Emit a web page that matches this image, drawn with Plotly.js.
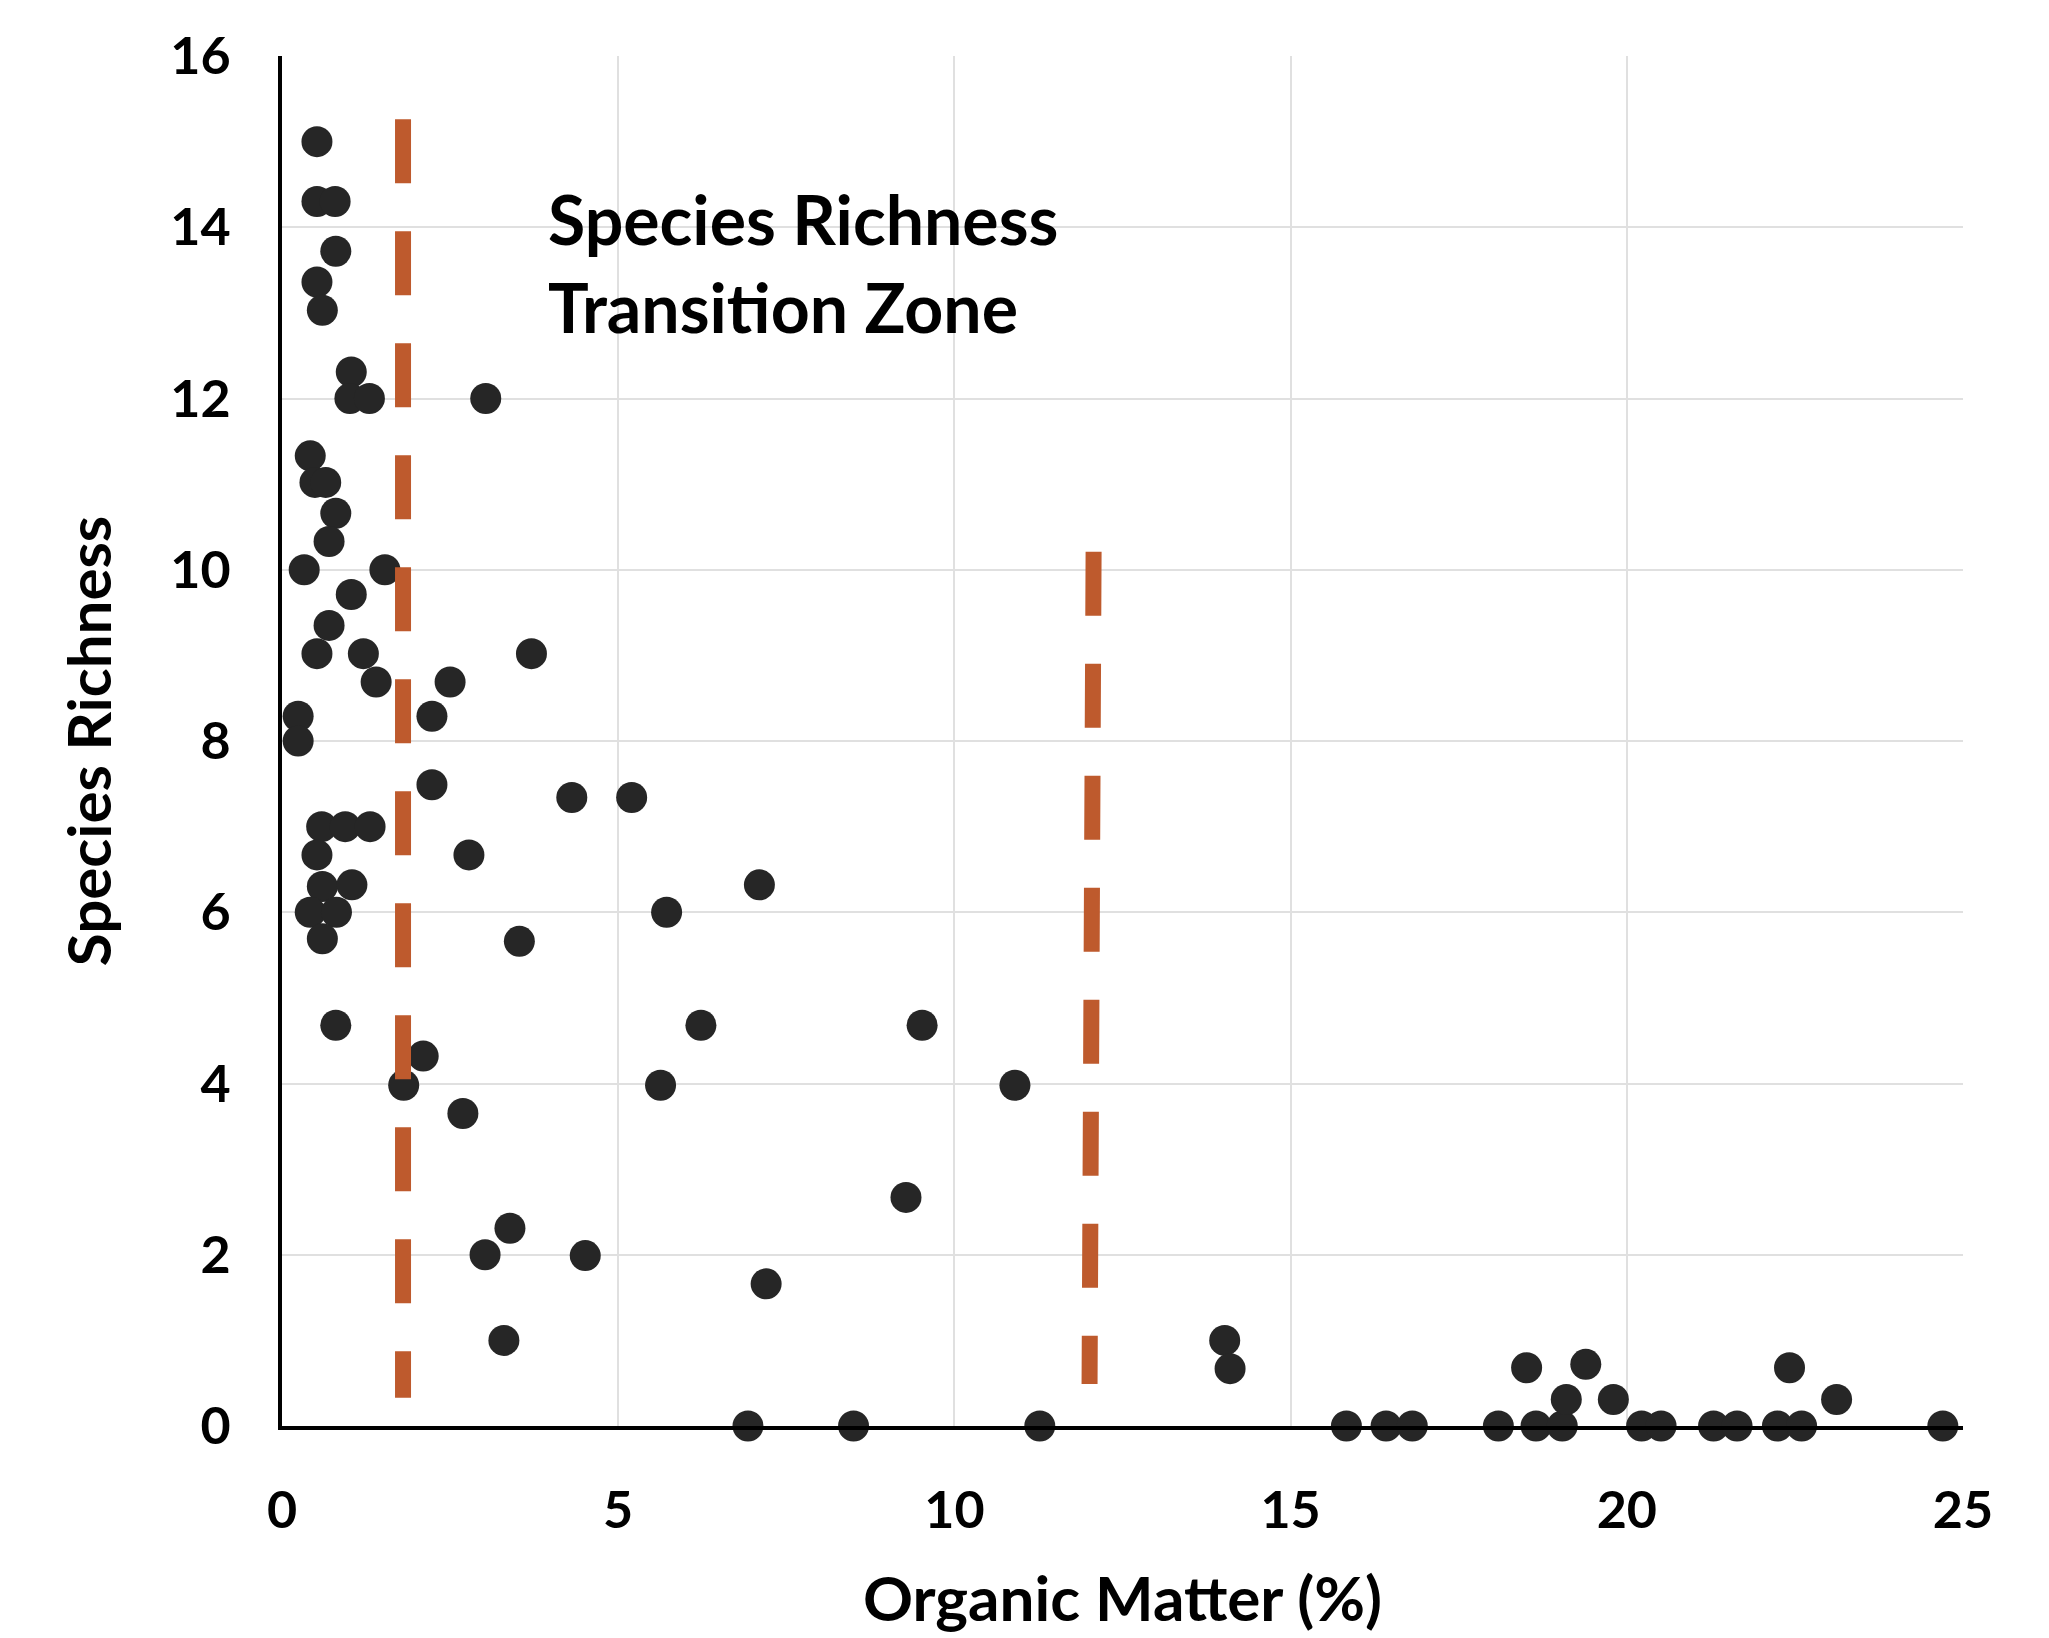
<!DOCTYPE html>
<html>
<head>
<meta charset="utf-8">
<script src="https://cdn.plot.ly/plotly-3.0.1.min.js"></script>
<style>
  html, body { margin: 0; padding: 0; background: #ffffff; }
  #chart { width: 2049px; height: 1638px; }
</style>
</head>
<body>
<div id="chart"></div>
<script>
// Organic matter (%) of each sample
const organicMatter = [
  0.52, 0.52, 0.79, 0.80, 0.52, 0.60, 1.03, 1.01, 1.30, 3.03,
  0.42, 0.49, 0.65, 0.80, 0.70, 0.33, 1.53, 1.03, 0.70, 0.52,
  1.21, 3.71, 1.40, 2.50, 0.24, 2.23, 0.24, 2.23, 4.31, 5.20,
  0.59, 0.94, 1.31, 0.52, 2.78, 0.60, 1.04, 7.10, 0.42, 0.81,
  5.72, 0.60, 3.53, 0.80, 6.23, 9.52, 2.10, 1.81, 5.63, 10.90,
  2.69, 9.28, 3.39, 3.02, 4.51, 7.20, 3.30, 14.02, 14.10, 6.93,
  8.50, 11.27, 15.83, 16.42, 16.81, 18.09, 18.65, 19.04, 18.51, 19.39,
  19.10, 19.80, 20.22, 20.51, 21.29, 21.64, 22.24, 22.60, 22.42, 23.12,
  24.70
];
// Species richness of each sample
const speciesRichness = [
  15.0, 14.3, 14.3, 13.72, 13.36, 13.03, 12.31, 12.0, 12.0, 12.0,
  11.33, 11.02, 11.02, 10.66, 10.33, 10.0, 10.0, 9.71, 9.35, 9.02,
  9.02, 9.02, 8.69, 8.69, 8.29, 8.29, 8.0, 7.49, 7.34, 7.34,
  7.0, 7.0, 7.0, 6.67, 6.67, 6.30, 6.32, 6.32, 6.0, 6.0,
  6.0, 5.69, 5.66, 4.68, 4.68, 4.68, 4.32, 3.98, 3.98, 3.98,
  3.65, 2.67, 2.31, 2.0, 1.99, 1.66, 1.0, 1.0, 0.67, 0,
  0, 0, 0, 0, 0, 0, 0, 0, 0.68, 0.72,
  0.31, 0.31, 0, 0, 0, 0, 0, 0, 0.68, 0.31,
  0
];
// Transition zone boundaries (dashed lines)
const lowerBoundaryX = [1.80, 1.80];
const lowerBoundaryY = [15.26, 0.33];
const upperBoundaryX = [12.07, 12.01];
const upperBoundaryY = [10.21, 0.49];

const xTicks = [0, 5, 10, 15, 20, 25];
const yTicks = [0, 2, 4, 6, 8, 10, 12, 14, 16];

const annotationText = 'Species Richness<br>Transition Zone';
const xTitle = 'Organic Matter (%)';
const yTitle = 'Species Richness';

const dashColor = '#BE5A2D';
const FONT = 'Lato, "Open Sans", sans-serif';

const traces = [
  {
    type: 'scatter', mode: 'markers',
    x: organicMatter, y: speciesRichness,
    marker: { color: '#262626', size: 31, line: { width: 0 } },
    cliponaxis: false, hoverinfo: 'skip', showlegend: false
  },
  {
    type: 'scatter', mode: 'lines',
    x: lowerBoundaryX, y: lowerBoundaryY,
    line: { color: dashColor, width: 16, dash: '64px,48px' },
    hoverinfo: 'skip', showlegend: false
  },
  {
    type: 'scatter', mode: 'lines',
    x: upperBoundaryX, y: upperBoundaryY,
    line: { color: dashColor, width: 16, dash: '64px,48px' },
    hoverinfo: 'skip', showlegend: false
  }
];

const layout = {
  width: 2049, height: 1638,
  paper_bgcolor: '#ffffff', plot_bgcolor: '#ffffff',
  margin: { l: 282, r: 86, t: 56, b: 212 },
  showlegend: false,
  font: { family: FONT, color: '#000000' },
  xaxis: {
    range: [0, 25],
    tickvals: xTicks,
    ticktext: xTicks.map(String),
    ticks: '',
    showgrid: true, gridcolor: '#e0e0e0', gridwidth: 2,
    zeroline: false,
    showline: true, linecolor: '#000000', linewidth: 4,
    tickfont: { family: FONT, size: 52, weight: 'bold', color: '#000000' },
    ticklabelstandoff: 36,
    title: { text: xTitle, font: { family: FONT, size: 62, weight: 'bold', color: '#000000' }, standoff: 40 },
    fixedrange: true
  },
  yaxis: {
    range: [0, 16],
    tickvals: yTicks,
    ticktext: yTicks.map(String),
    ticks: '',
    showgrid: true, gridcolor: '#e0e0e0', gridwidth: 2,
    zeroline: false,
    showline: true, linecolor: '#000000', linewidth: 4,
    tickfont: { family: FONT, size: 52, weight: 'bold', color: '#000000' },
    ticklabelstandoff: 37,
    title: { text: yTitle, font: { family: FONT, size: 60, weight: 'bold', color: '#000000' }, standoff: 40 },
    fixedrange: true
  },
  annotations: [
    {
      text: annotationText,
      xref: 'x', yref: 'y', x: 3.92, y: 13.59,
      xanchor: 'left', yanchor: 'middle', align: 'left',
      showarrow: false,
      font: { family: FONT, size: 68, weight: 'bold', color: '#000000' }
    }
  ]
};

Plotly.newPlot('chart', traces, layout, { staticPlot: true, displayModeBar: false });
</script>
</body>
</html>
